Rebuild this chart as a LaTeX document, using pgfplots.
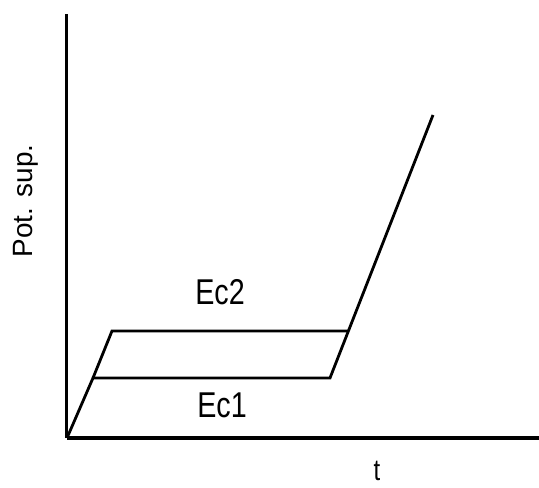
\documentclass[border=0pt]{standalone}
\usepackage{pgfplots}
\pgfplotsset{compat=1.18}
\usepackage{fontspec}
\setmainfont{Liberation Sans}

% potential path: charging ramp, plateau Ec1, final rise
\pgfplotstableread{
t   E
0   0
26  60
263 60
366 323
}\lowerpath
% upper branch: ramp continues to plateau Ec2
\pgfplotstableread{
t   E
26  60
45  107
281 107
}\upperpath

\begin{document}
\begin{tikzpicture}
\useasboundingbox (-67bp,-50bp) rectangle (472bp,438bp);
\begin{axis}[
  scale only axis,
  width=472bp, height=424bp,
  xmin=0, xmax=472, ymin=0, ymax=424,
  axis lines=left,
  axis line style={line width=3bp, -},
  ticks=none,
  clip=false,
]
\addplot[black, line width=2.8bp, line join=miter] table[x=t, y=E] {\lowerpath};
\addplot[black, line width=2.8bp, line join=miter] table[x=t, y=E] {\upperpath};

\node[anchor=base, font=\fontsize{36}{36}\selectfont, xscale=0.8] at (axis cs:153,133) {Ec2};
\node[anchor=base, font=\fontsize{36}{36}\selectfont, xscale=0.8] at (axis cs:155,21) {Ec1};
\node[anchor=base, rotate=90, font=\fontsize{28}{28}\selectfont] at (axis cs:-34,237) {Pot. sup.};
\node[anchor=base, font=\fontsize{30}{30}\selectfont, xscale=0.8, inner sep=0pt] at (axis cs:310,-42) {t};
\end{axis}
\end{tikzpicture}
\end{document}
